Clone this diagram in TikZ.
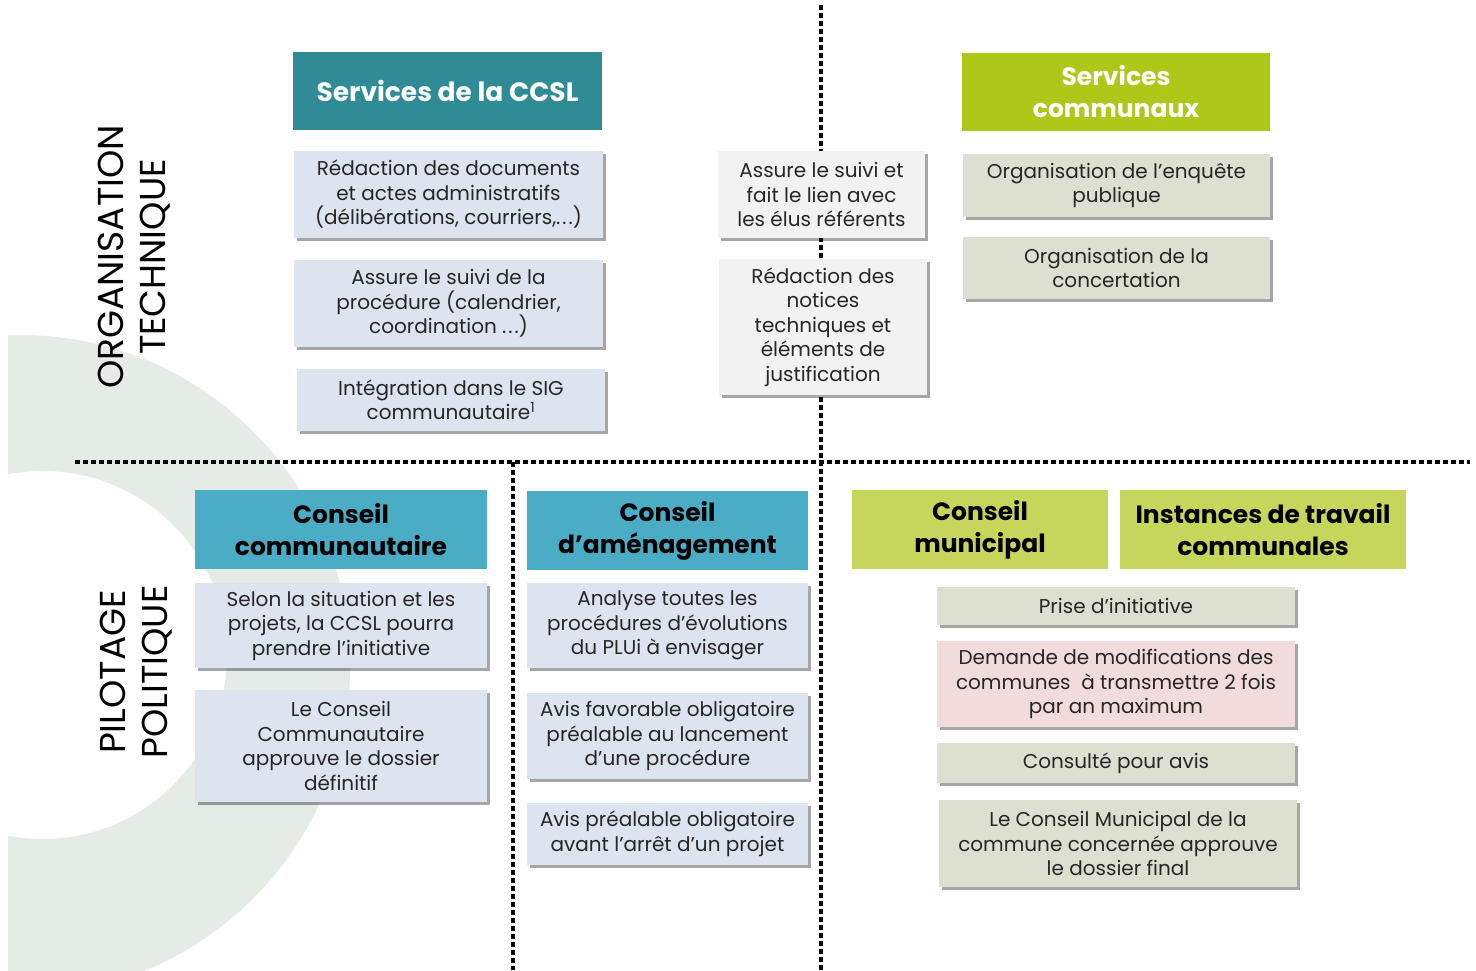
\documentclass[tikz,border=0pt]{standalone}
\usepackage{fontspec}
\setmainfont{Poppins}
\usetikzlibrary{shadows}
\definecolor{ringcol}{HTML}{E5EBE5}
\definecolor{tealhdr}{HTML}{2F8B96}
\definecolor{limehdr}{HTML}{AEC81A}
\definecolor{cyanhdr}{HTML}{4BACC6}
\definecolor{olivehdr}{HTML}{C5D65A}
\definecolor{bluebox}{HTML}{DCE4F0}
\definecolor{greybox}{HTML}{F2F2F2}
\definecolor{sagebox}{HTML}{DDE0D0}
\definecolor{pinkbox}{HTML}{F2DCDB}
\definecolor{bodytxt}{HTML}{262626}
% wide three-dot ellipsis
\newcommand{\dotsw}{.\kern2pt.\kern2pt.}
\tikzset{
  cell/.style={rectangle, inner sep=0pt, align=center, text=bodytxt,
    font=\fontsize{20}{24.5}\selectfont,
    drop shadow={shadow xshift=3pt, shadow yshift=-3pt, opacity=0.35, fill=black}},
  hdr/.style={rectangle, inner sep=0pt, align=center,
    font=\bfseries\fontsize{25}{32}\selectfont},
  whitehdr/.style={hdr, text=white},
  blackhdr/.style={hdr, text=black},
  sidelabel/.style={rotate=90, align=center, text=black,
    font=\fontsize{36}{42}\selectfont},
  sep/.style={line width=4pt, dash pattern=on 5pt off 3pt, black},
  wh/.style 2 args={minimum width=#1pt, minimum height=#2pt},
}
\begin{document}
\begin{tikzpicture}[x=1pt, y=-1pt]
\useasboundingbox (0,0) rectangle (1476,970);
% faint background ring
\begin{scope}
  \clip (8,0) rectangle (1476,970);
  \fill[ringcol, even odd rule] (20,665) circle[radius=330pt] (43,655) circle[radius=184pt];
\end{scope}

% dotted separators
\coordinate (hL) at (75,462);
\coordinate (hR) at (1470,462);
\coordinate (vT) at (821,5);
\coordinate (vB) at (821,970);
\coordinate (mT) at (513,462);
\coordinate (mB) at (513,970);
\draw[sep] (hL) -- (hR);
\draw[sep] (vT) -- (vB);
\draw[sep] (mT) -- (mB);

% side labels
\node[sidelabel] (orgtech) at (134,257) {ORGANISATION\\TECHNIQUE};
\node[sidelabel] (pilpol) at (136,672) {PILOTAGE\\POLITIQUE};

% technical organisation
\node[whitehdr, fill=tealhdr, wh={309}{78}, font=\bfseries\fontsize{26.5}{32}\selectfont] (ccsl) at (447.5,91) {Services de la CCSL};
\node[cell, fill=bluebox, wh={309}{87}] (redac) at (448.5,194.5)
  {Rédaction des documents\\et actes administratifs\\(délibérations, courriers,\dotsw)};
\node[cell, fill=bluebox, wh={309}{87}] (suivi) at (448.5,303.5)
  {Assure le suivi de la\\procédure (calendrier,\\coordination \dotsw)};
\node[cell, fill=bluebox, wh={308}{62}] (sig) at (451,400)
  {Intégration dans le SIG\\communautaire\textsuperscript{1}};
\node[cell, fill=greybox, wh={207}{87}] (lien) at (821.5,194.5)
  {Assure le suivi et\\fait le lien avec\\les élus référents};
\node[cell, fill=greybox, wh={208}{136}] (notices) at (823,327)
  {Rédaction des\\notices\\techniques et\\éléments de\\justification};
\node[whitehdr, fill=limehdr, wh={308}{78}] (servcom) at (1116,92) {Services\\communaux};
\node[cell, fill=sagebox, wh={307}{63}] (enquete) at (1116.5,185.5)
  {Organisation de l’enquête\\publique};
\node[cell, fill=sagebox, wh={307}{62}] (concert) at (1116.5,268)
  {Organisation de la\\concertation};

% political steering
\node[blackhdr, fill=cyanhdr, wh={292}{79}] (cc) at (341,529.5) {Conseil\\communautaire};
\node[blackhdr, fill=cyanhdr, wh={281}{79}] (ca) at (667.5,530.5) {Conseil\\d’aménagement};
\node[blackhdr, fill=olivehdr, wh={256}{79}] (cm) at (980,529.5) {Conseil\\municipal};
\node[blackhdr, fill=olivehdr, wh={286}{79}] (itc) at (1263,529.5) {Instances de travail\\communales};

\node[cell, fill=bluebox, wh={292}{85}] (selon) at (341,625.5)
  {Selon la situation et les\\projets, la CCSL pourra\\prendre l’initiative};
\node[cell, fill=bluebox, wh={292}{112}] (approuve) at (341,746)
  {Le Conseil\\Communautaire\\approuve le dossier\\définitif};
\node[cell, fill=bluebox, wh={281}{85}] (analyse) at (667.5,625.5)
  {Analyse toutes les\\procédures d’évolutions\\du PLUi à envisager};
\node[cell, fill=bluebox, wh={281}{86}] (favorable) at (667.5,736)
  {Avis favorable obligatoire\\préalable au lancement\\d’une procédure};
\node[cell, fill=bluebox, wh={281}{62}] (prealable) at (667.5,834)
  {Avis préalable obligatoire\\avant l’arrêt d’un projet};

\node[cell, fill=sagebox, wh={358}{38}] (initiative) at (1116,606) {Prise d’initiative};
\node[cell, fill=pinkbox, wh={358}{86}] (demande) at (1116,684)
  {Demande de modifications des\\communes~ à transmettre 2 fois\\par an maximum};
\node[cell, fill=sagebox, wh={358}{40}] (consulte) at (1116,763) {Consulté pour avis};
\node[cell, fill=sagebox, wh={358}{87}] (final) at (1118,843.5)
  {Le Conseil Municipal de la\\commune concernée approuve\\le dossier final};
\end{tikzpicture}
\end{document}
